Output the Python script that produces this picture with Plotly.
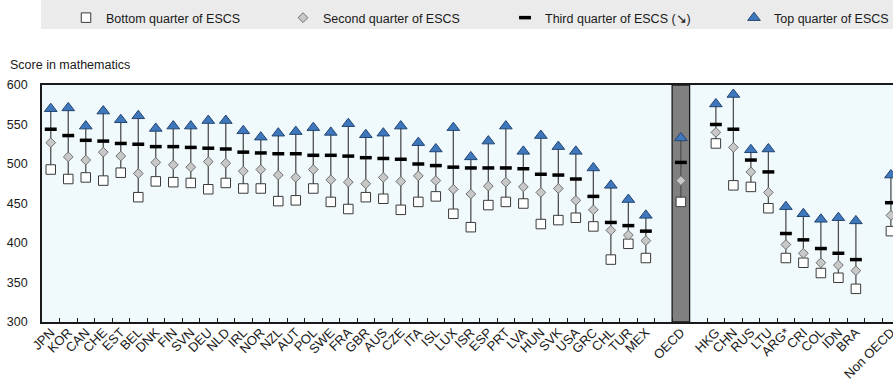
import plotly.graph_objects as go

# Mathematics score by quarter of the PISA index of economic, social and cultural status (ESCS)
oecd_countries = ["JPN", "KOR", "CAN", "CHE", "EST", "BEL", "DNK", "FIN", "SVN", "DEU",
                  "NLD", "IRL", "NOR", "NZL", "AUT", "POL", "SWE", "FRA", "GBR", "AUS",
                  "CZE", "ITA", "ISL", "LUX", "ISR", "ESP", "PRT", "LVA", "HUN", "SVK",
                  "USA", "GRC", "CHL", "TUR", "MEX"]
oecd_bottom = [493, 481, 483, 479, 489, 458, 478, 477, 476, 468,
               476, 469, 469, 453, 454, 469, 452, 443, 458, 456,
               442, 452, 459, 437, 420, 448, 452, 450, 424, 429,
               432, 421, 379, 399, 381]
oecd_second = [527, 509, 505, 515, 510, 488, 502, 499, 496, 503,
               501, 491, 493, 486, 483, 493, 480, 477, 475, 483,
               478, 485, 479, 468, 462, 472, 477, 471, 464, 469,
               454, 442, 416, 410, 403]
oecd_third = [544, 536, 530, 529, 526, 525, 522, 522, 521, 520,
              519, 515, 514, 513, 513, 511, 511, 510, 508, 507,
              506, 500, 498, 496, 495, 495, 495, 494, 487, 486,
              481, 459, 426, 422, 415]
oecd_top = [570, 571, 548, 567, 556, 561, 545, 548, 548, 555,
            555, 542, 534, 539, 541, 546, 540, 551, 537, 539,
            548, 527, 519, 546, 509, 529, 548, 516, 536, 522,
            516, 495, 473, 455, 435]

average_label = ["OECD"]
average_bottom = [452]
average_second = [479]
average_third = [502]
average_top = [533]

partner_countries = ["HKG", "CHN", "RUS", "LTU", "ARG*", "CRI", "COL", "IDN", "BRA"]
partner_bottom = [526, 473, 471, 444, 381, 375, 362, 356, 342]
partner_second = [540, 521, 490, 464, 398, 387, 375, 372, 365]
partner_third = [550, 544, 505, 490, 412, 404, 393, 387, 379]
partner_top = [576, 588, 518, 519, 446, 437, 430, 432, 428]

non_oecd_label = ["Non OECD"]
non_oecd_bottom = [415]
non_oecd_second = [435]
non_oecd_third = [451]
non_oecd_top = [486]

y_ticks = [300, 350, 400, 450, 500, 550, 600]

legend_names = ["Bottom quarter of ESCS", "Second quarter of ESCS",
                "Third quarter of ESCS (\u2198)", "Top quarter of ESCS"]

# Blank spacer categories separate the groups on the axis
gap1, gap2, gap3 = " ", "  ", "   "
all_categories = (oecd_countries + [gap1] + average_label + [gap2]
                  + partner_countries + [gap3] + non_oecd_label)

cats = oecd_countries + average_label + partner_countries + non_oecd_label
bottom = oecd_bottom + average_bottom + partner_bottom + non_oecd_bottom
second = oecd_second + average_second + partner_second + non_oecd_second
third = oecd_third + average_third + partner_third + non_oecd_third
top = oecd_top + average_top + partner_top + non_oecd_top

FONT = "Liberation Sans, Arial, sans-serif"
TEXT = "#1a1a1a"

# figure and plot area geometry (pixels)
FIG_W, FIG_H = 893, 385
M_L, M_T, PLOT_W, PLOT_H = 42, 85, 851, 237


def px_x(px):
    return (px - M_L) / PLOT_W


def px_y(py):
    return 1 + (M_T - py) / PLOT_H


fig = go.Figure()

# keeps every category (including the spacers) on the axis
fig.add_trace(go.Scatter(x=all_categories, y=[None] * len(all_categories),
                         mode="markers", showlegend=False, hoverinfo="skip"))

# vertical range line from the lowest to the highest quarter
lx, ly = [], []
for c, lo, hi in zip(cats, bottom, top):
    lx += [c, c, None]
    ly += [lo, hi, None]
fig.add_trace(go.Scatter(x=lx, y=ly, mode="lines", showlegend=False, hoverinfo="skip",
                         line=dict(color="#505050", width=1.3)))

fig.add_trace(go.Scatter(
    x=cats, y=bottom, mode="markers", name=legend_names[0], legend="legend",
    marker=dict(symbol="square", size=9.5, color="white",
                line=dict(color="#3a3a3a", width=1))))
fig.add_trace(go.Scatter(
    x=cats, y=second, mode="markers", name=legend_names[1], legend="legend2",
    marker=dict(symbol="diamond", size=7.5, color="#c8c8c8",
                line=dict(color="#707070", width=1))))
fig.add_trace(go.Scatter(
    x=cats, y=third, mode="markers", name=legend_names[2], legend="legend3",
    marker=dict(symbol="line-ew", size=8.5, color="black",
                line=dict(color="black", width=3.5))))
fig.add_trace(go.Scatter(
    x=cats, y=top, mode="markers", name=legend_names[3], legend="legend4",
    marker=dict(symbol="triangle-up", size=11, color="#3f77bd",
                line=dict(color="#23456f", width=1))))

oecd_idx = all_categories.index("OECD")
shapes = [
    # shaded column for the OECD average
    dict(type="rect", xref="x", yref="paper", x0=oecd_idx - 0.5, x1=oecd_idx + 0.5,
         y0=0, y1=1, fillcolor="#808080", line=dict(color="#1a1a1a", width=1.3),
         layer="below"),
    # grey band behind the legend
    dict(type="rect", xref="paper", yref="paper", x0=px_x(41), x1=px_x(900),
         y0=px_y(29), y1=px_y(0), fillcolor="#ebebeb",
         line=dict(width=0), layer="below"),
]


def legend_at(symbol_px):
    # container-referenced so the legends never push the plot margins
    return dict(orientation="h", xref="container", yref="container",
                x=(symbol_px - 20) / FIG_W, xanchor="left",
                y=1 - 18 / FIG_H, yanchor="middle", bgcolor="rgba(0,0,0,0)",
                borderwidth=0, font=dict(family=FONT, size=12.5, color=TEXT),
                itemclick=False, itemdoubleclick=False)


fig.update_layout(
    width=FIG_W, height=FIG_H,
    margin=dict(l=M_L, r=0, t=M_T, b=63, autoexpand=False),
    paper_bgcolor="white",
    plot_bgcolor="#f0fafd",
    font=dict(family=FONT, size=12.5, color=TEXT),
    shapes=shapes,
    showlegend=True,
    legend=legend_at(86),
    legend2=legend_at(303),
    legend3=legend_at(525),
    legend4=legend_at(754),
    annotations=[dict(text="Score in mathematics", xref="paper", yref="paper",
                      x=px_x(8), y=px_y(65), xanchor="left", yanchor="middle",
                      showarrow=False, font=dict(family=FONT, size=12.5, color=TEXT))],
    xaxis=dict(type="category", categoryorder="array", categoryarray=all_categories,
               range=[-0.5, len(all_categories) - 1 + 0.12],
               tickson="boundaries", ticks="inside", ticklen=4, tickwidth=1,
               tickcolor="#1a1a1a", tickangle=-45, ticklabelstandoff=-4,
               tickfont=dict(family=FONT, size=13, color=TEXT),
               showline=True, linecolor="#1a1a1a", linewidth=1.6, mirror=True,
               showgrid=False, zeroline=False, fixedrange=True),
    yaxis=dict(range=[300, 600], tickvals=y_ticks, ticks="", ticklabelstandoff=10,
               tickfont=dict(family=FONT, size=12.5, color=TEXT),
               showline=True, linecolor="#1a1a1a", linewidth=1.6,
               showgrid=False, zeroline=False, fixedrange=True),
)

fig.write_html("out.html")
